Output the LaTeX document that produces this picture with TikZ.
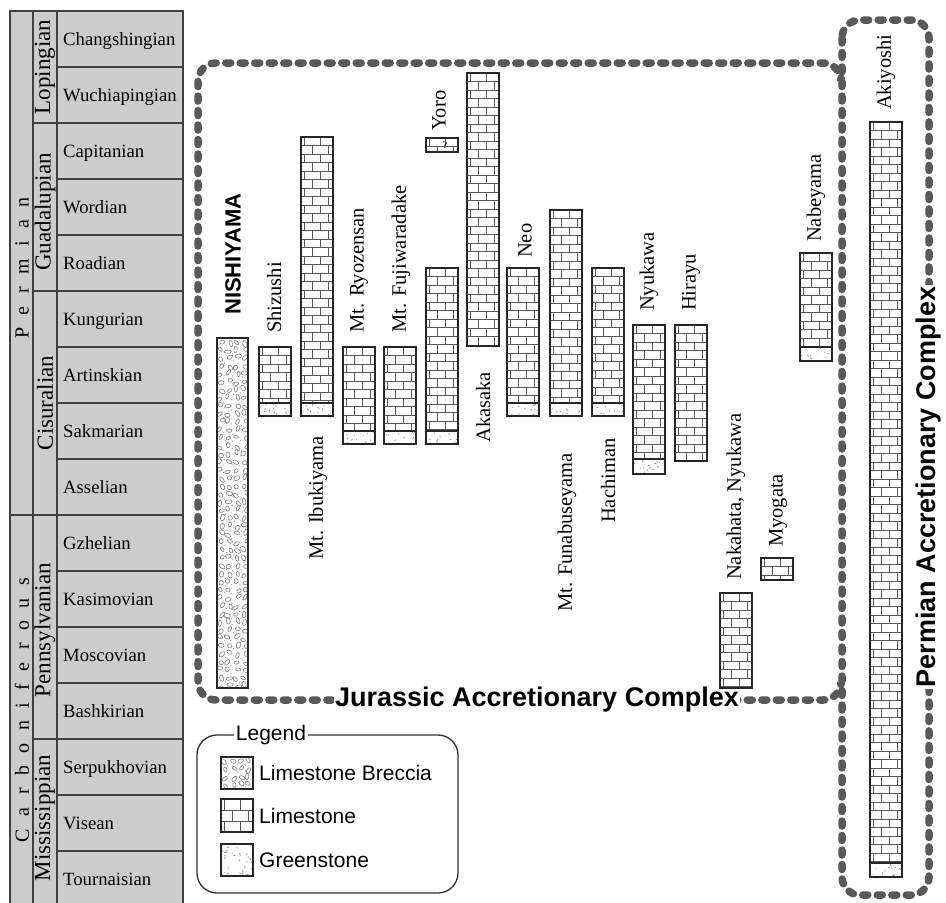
\documentclass[tikz,border=0pt]{standalone}
\usepackage{fontspec}
\setmainfont{Liberation Serif}
\setsansfont{Liberation Sans}

\tikzset{
  stage/.style={font=\fontsize{18.7}{20}\selectfont, anchor=base west, inner sep=0pt},
  epoch/.style={font=\fontsize{23}{25}\selectfont, rotate=90, inner sep=0pt},
  period/.style={font=\fontsize{20}{22}\selectfont, rotate=90, inner sep=0pt},
  site/.style={font=\fontsize{20.5}{22}\selectfont, rotate=90, inner sep=0pt},
  complex/.style={font=\sffamily\bfseries\fontsize{27}{29}\selectfont, fill=white, inner sep=1.5pt},
  legtext/.style={font=\sffamily\fontsize{21}{23}\selectfont, anchor=west, inner sep=0pt},
  boxline/.style={draw=black!85, line width=1.3pt},
  brick/.style={draw=black!65, line width=0.6pt},
  pebble/.style={draw=black!50, line width=0.6pt},
  stip/.style={draw=black!45, line width=0.7pt, line cap=round},
  tline/.style={draw=black!75, line width=1.2pt},
  accr/.style={draw=black!65, line width=7.5pt, line cap=round, dash pattern=on 5pt off 9.5pt, rounded corners=18pt},
}

% limestone: [brick height] x1 y1 x2 y2
\newcommand\limebox[5][8.5]{%
  \begin{scope}
    \clip (#2,#3) rectangle (#4,#5);
    \pgfmathsetmacro\bw{#4-#2}
    \pgfmathtruncatemacro\nrow{(#5-#3)/#1}
    \foreach \k in {0,...,\nrow} {
      \pgfmathsetmacro\yy{#3+#1*\k}
      \pgfmathsetmacro\sh{mod(\k,2)*0.25}
      \draw[brick] (#2,\yy) -- (#4,\yy);
      \draw[brick] ({#2+(0.1+\sh)*\bw},\yy) -- ++(0,#1);
      \draw[brick] ({#2+(0.6+\sh)*\bw},\yy) -- ++(0,#1);
    }
  \end{scope}
  \draw[boxline] (#2,#3) rectangle (#4,#5);
}

% greenstone: x1 y1 x2 y2
\newcommand\greenbox[4]{%
  \begin{scope}
    \clip (#1,#2) rectangle (#3,#4);
    \pgfmathtruncatemacro\ndot{(#3-#1)*(#4-#2)/30}
    \foreach \i in {1,...,\ndot} {
      \pgfmathsetmacro\px{#1+rnd*(#3-#1)}
      \pgfmathsetmacro\py{#2+rnd*(#4-#2)}
      \draw[stip] (\px,\py) -- ++(rand*1.5,rand*1.5);
    }
  \end{scope}
  \draw[boxline] (#1,#2) rectangle (#3,#4);
}

% limestone breccia: x1 y1 x2 y2
\newcommand\brecbox[4]{%
  \begin{scope}
    \clip (#1,#2) rectangle (#3,#4);
    \pgfmathtruncatemacro\ncol{(#3-#1)/8}
    \pgfmathtruncatemacro\nrow{(#4-#2)/8}
    \foreach \i in {0,...,\ncol} \foreach \j in {0,...,\nrow} {
      \pgfmathsetmacro\cx{#1+8*\i+4+rand*2}
      \pgfmathsetmacro\cy{#2+8*\j+4+rand*2}
      \pgfmathsetmacro\ra{2.2+rnd*1.3}
      \pgfmathsetmacro\rb{1.4+rnd*0.8}
      \pgfmathsetmacro\ang{rnd*180}
      \draw[pebble, rotate around={\ang:(\cx,\cy)}] (\cx,\cy) ellipse ({\ra pt} and {\rb pt});
      \draw[stip] ({\cx+4},{\cy+3.5}) -- ++(rand,rand);
    }
  \end{scope}
  \draw[boxline] (#1,#2) rectangle (#3,#4);
}

\newcommand\gap{\hspace{12.5pt}}

\begin{document}
\begin{tikzpicture}[x=1pt, y=-1pt]
\pgfmathsetseed{11}
\useasboundingbox (0,0) rectangle (946,903);
\fill[white] (0,0) rectangle (946,903);

% time scale
\fill[gray!40] (10,11) rectangle (183,910);
\draw[tline] (10,910) -- (10,11) -- (183,11) -- (183,910);
\draw[tline] (33,11) -- (33,910);
\draw[tline] (57,11) -- (57,910);
\foreach \i in {1,...,15}
  \draw[tline] (57,{11+56*\i}) -- (183,{11+56*\i});
\foreach \yb in {123,291,515,739}
  \draw[tline] (33,\yb) -- (57,\yb);
\draw[tline] (10,515) -- (33,515);

\foreach \s [count=\i from 0] in {Changshingian, Wuchiapingian, Capitanian, Wordian, Roadian,
    Kungurian, Artinskian, Sakmarian, Asselian, Gzhelian, Kasimovian, Moscovian,
    Bashkirian, Serpukhovian, Visean, Tournaisian}
  \node[stage] (st\i) at (63,{39+56*\i+6}) {\s};

\node[epoch] (lopingian) at (45,67) {Lopingian};
\node[epoch] (guadalupian) at (45,212) {Guadalupian};
\node[epoch] (cisuralian) at (45,403) {Cisuralian};
\node[epoch] (pennsylvanian) at (45,630) {Pennsylvanian};
\node[epoch] (mississippian) at (45,818) {Mississippian};

\node[period] (permian) at (22,268) {P\gap e\gap r\gap m\gap i\gap a\gap n};
\node[period] (carboniferous) at (22,710) {C\gap a\gap r\gap b\gap o\gap n\gap i\gap f\gap e\gap r\gap o\gap u\gap s};

% accretionary complexes
\draw[accr] (841,78) -- (841,63) -- (198,63) -- (198,700) -- (841,700) -- (841,685);
\draw[accr] (842,20) rectangle (929,895);
\node[complex] (jurassic) at (537,700) {Jurassic Accretionary Complex};
\node[complex, rotate=90] (permianac) at (929,487) {Permian Accretionary Complex};

% sections
\brecbox{217}{338}{248}{688}
\limebox{259}{347}{291}{403} \greenbox{259}{403}{291}{416}
\limebox{301}{137}{333}{403} \greenbox{301}{403}{333}{416}
\limebox{343}{347}{375}{431} \greenbox{343}{431}{375}{444}
\limebox{384}{347}{416}{431} \greenbox{384}{431}{416}{444}
\limebox{426}{138}{458}{152}
\limebox{426}{268}{458}{431} \greenbox{426}{431}{458}{444}
\limebox{467}{73}{499}{346}
\limebox{507}{268}{539}{403} \greenbox{507}{403}{539}{416}
\limebox{550}{210}{582}{403} \greenbox{550}{403}{582}{416}
\limebox{592}{268}{624}{403} \greenbox{592}{403}{624}{416}
\limebox{633}{325}{665}{459} \greenbox{633}{459}{665}{474}
\limebox{675}{325}{707}{461}
\limebox{720}{593}{752}{688}
\limebox{761}{558}{793}{580}
\limebox{800}{253}{832}{347} \greenbox{800}{347}{832}{361}
\limebox{870}{122}{902}{863} \greenbox{870}{863}{902}{877}
\node[font=\fontsize{10}{10}\selectfont, inner sep=0pt] (yoroq) at (445,145) {?};

% section names
\node[site, anchor=west, font=\sffamily\bfseries\fontsize{22}{24}\selectfont] (nishiyama) at (233,315) {NISHIYAMA};
\node[site, anchor=west] (shizushi) at (274,333) {Shizushi};
\node[site, anchor=west] (ibukiyama) at (318,560) {Mt. Ibukiyama};
\node[site, anchor=west] (ryozensan) at (359,333) {Mt. Ryozensan};
\node[site, anchor=west] (fujiwaradake) at (401,333) {Mt. Fujiwaradake};
\node[site, anchor=west] (yoro) at (439,131) {Yoro};
\node[site, anchor=east] (akasaka) at (483,372) {Akasaka};
\node[site, anchor=west] (neo) at (525,258) {Neo};
\node[site, anchor=west] (funabuseyama) at (567,612) {Mt. Funabuseyama};
\node[site, anchor=west] (hachiman) at (608,523) {Hachiman};
\node[site, anchor=west] (nyukawa) at (649,311) {Nyukawa};
\node[site, anchor=west] (hirayu) at (691,311) {Hirayu};
\node[site, anchor=west] (nakahata) at (736,580) {Nakahata, Nyukawa};
\node[site, anchor=west] (myogata) at (778,547) {Myogata};
\node[site, anchor=west] (nabeyama) at (816,242) {Nabeyama};
\node[site, anchor=west] (akiyoshi) at (886,110) {Akiyoshi};

% legend
\draw[draw=black!80, line width=1.3pt, rounded corners=20pt] (197,735) rectangle (458,893);
\node[font=\sffamily\fontsize{21}{23}\selectfont, fill=white, inner sep=2pt] (legend) at (271,735) {Legend};
\brecbox{221}{757}{253}{789}
\node[legtext] (lbreccia) at (259,773) {Limestone Breccia};
\limebox[11]{221}{799}{253}{832}
\node[legtext] (llime) at (259,815.5) {Limestone};
\greenbox{221}{844}{253}{876}
\node[legtext] (lgreen) at (259,860) {Greenstone};
\end{tikzpicture}
\end{document}
